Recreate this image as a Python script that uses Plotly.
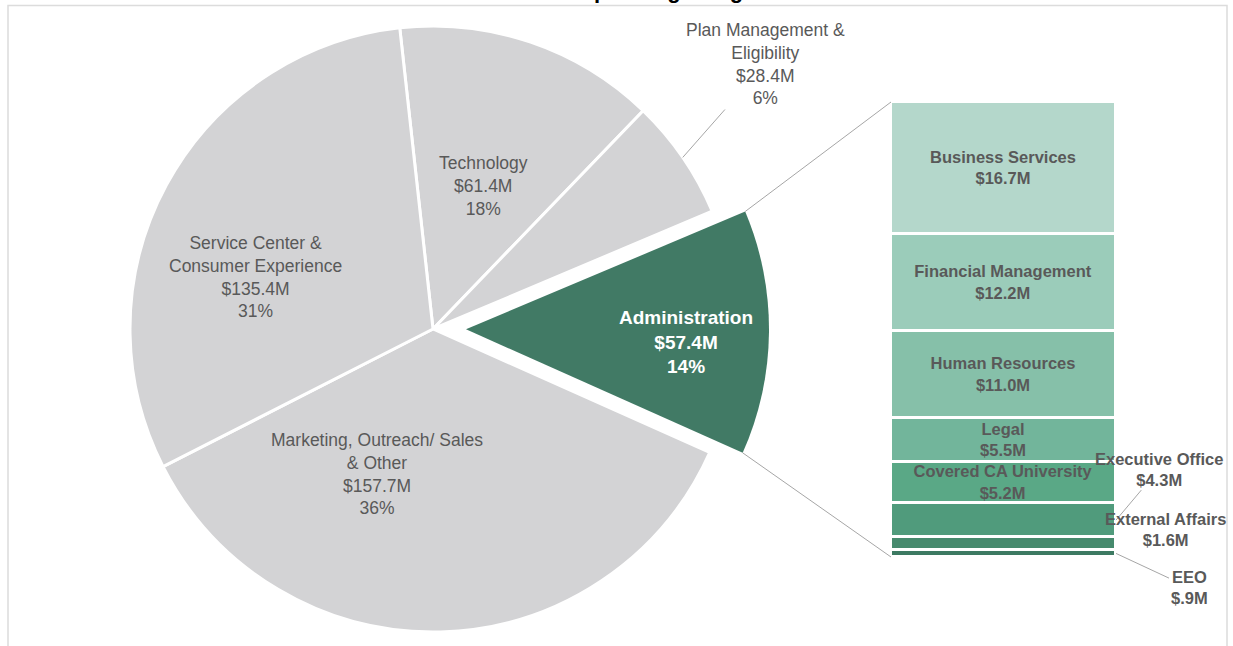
import math
import plotly.graph_objects as go

# ---- data ----
pie_labels = ["Technology", "Plan Management &<br>Eligibility", "Administration",
              "Marketing, Outreach/ Sales<br>& Other", "Service Center &<br>Consumer Experience"]
pie_values = [61.4, 28.4, 57.4, 157.7, 135.4]
pie_amounts = ["$61.4M", "$28.4M", "$57.4M", "$157.7M", "$135.4M"]
pie_pcts = ["18%", "6%", "14%", "36%", "31%"]

admin_units = ["EEO", "External Affairs", "Executive Office", "Covered CA University",
               "Legal", "Human Resources", "Financial Management", "Business Services"]
admin_values = [0.9, 1.6, 4.3, 5.2, 5.5, 11.0, 12.2, 16.7]
admin_amounts = ["$.9M", "$1.6M", "$4.3M", "$5.2M", "$5.5M", "$11.0M", "$12.2M", "$16.7M"]

title_text = "2024-25 Operating Budget"

# ---- layout constants (pixels) ----
W, H = 1233, 646
CX, CY, R = 433, 329, 303
PULL_PX = 33
ROT = -6.3
ADMIN = 2
BAR_X0, BAR_X1, BAR_TOP, BAR_BOT = 891, 1116, 102, 557

GRAY = "#d3d3d5"
ADMIN_GREEN = "#417a65"
CLEAR = "rgba(0,0,0,0)"
TXT = "#595959"
LEADER = "#a6a6a6"
FONT = "Liberation Sans, Arial, sans-serif"
bar_colors = ["#3d7a62", "#468a6d", "#509b7c", "#5aa886",
              "#72b59b", "#86c0a9", "#9bccba", "#b4d7cb"]

# label centres for the pie (pixels)
pie_label_xy = [(483, 186), (765, 64), (686, 342), (377, 474), (255, 277)]


def px(x):
    return x / W


def py(y):
    return 1 - y / H


total = sum(pie_values)


def slice_angles(i):
    start = ROT + 360 * sum(pie_values[:i]) / total
    return start, start + 360 * pie_values[i] / total


def arc_point(cx, cy, ang, r=R):
    a = math.radians(ang)
    return cx + r * math.sin(a), cy - r * math.cos(a)


# pulled-out centre of the Administration slice
a0, a1 = slice_angles(ADMIN)
mid = (a0 + a1) / 2
PCX = CX + PULL_PX * math.sin(math.radians(mid))
PCY = CY - PULL_PX * math.cos(math.radians(mid))

fig = go.Figure()

# base pie (Administration left empty)
fig.add_trace(go.Pie(
    values=pie_values, labels=[l.replace("<br>", " ") for l in pie_labels],
    sort=False, direction="clockwise", rotation=ROT,
    marker=dict(colors=[CLEAR if i == ADMIN else GRAY for i in range(5)],
                line=dict(color=[CLEAR if i == ADMIN else "white" for i in range(5)], width=3)),
    textinfo="none", hoverinfo="skip", showlegend=False,
    domain=dict(x=[px(CX - R), px(CX + R)], y=[py(CY + R), py(CY - R)]),
))

# exploded Administration slice
fig.add_trace(go.Pie(
    values=pie_values, labels=[l.replace("<br>", " ") for l in pie_labels],
    sort=False, direction="clockwise", rotation=ROT,
    marker=dict(colors=[ADMIN_GREEN if i == ADMIN else CLEAR for i in range(5)],
                line=dict(width=0)),
    textinfo="none", hoverinfo="skip", showlegend=False,
    domain=dict(x=[px(PCX - R), px(PCX + R)], y=[py(PCY + R), py(PCY - R)]),
))

# stacked breakdown bar
bar_total = sum(admin_values)
for i, (unit, v) in enumerate(zip(admin_units, admin_values)):
    inside = i >= 3
    fig.add_trace(go.Bar(
        x=[0], y=[v], width=1, name=unit, showlegend=False, hoverinfo="skip",
        marker=dict(color=bar_colors[i], line=dict(color="white", width=3)),
        text=[f"<b>{unit}<br>{admin_amounts[i]}</b>"] if inside else None,
        textposition="inside" if inside else "none",
        insidetextanchor="middle",
        textfont=dict(family=FONT, size=16.5, color=TXT),
    ))

annotations = []

# pie labels
for i in range(5):
    lx, ly = pie_label_xy[i]
    text = f"{pie_labels[i]}<br>{pie_amounts[i]}<br>{pie_pcts[i]}"
    if i == ADMIN:
        annotations.append(dict(x=px(lx), y=py(ly), xref="paper", yref="paper", showarrow=False,
                                xanchor="center", yanchor="middle",
                                text=f"<b>{text}</b>", font=dict(family=FONT, size=19, color="white")))
    elif i == 1:
        ang = sum(slice_angles(i)) / 2
        ex, ey = arc_point(CX, CY, ang)
        annotations.append(dict(x=px(ex), y=py(ey), xref="paper", yref="paper", showarrow=True,
                                ax=lx - ex, ay=ly - ey, arrowhead=0, arrowwidth=1, arrowcolor=LEADER,
                                text=text, font=dict(family=FONT, size=17.5, color=TXT)))
    else:
        annotations.append(dict(x=px(lx), y=py(ly), xref="paper", yref="paper", showarrow=False,
                                xanchor="center", yanchor="middle",
                                text=text, font=dict(family=FONT, size=17.5, color=TXT)))

# outside bar labels (EEO, External Affairs, Executive Office)
cum = [sum(admin_values[:i]) for i in range(len(admin_values))]
bold_out = dict(family=FONT, size=16.5, color=TXT)
annotations.append(dict(x=0.5, y=cum[2] + admin_values[2] / 2, xref="x", yref="y", showarrow=True,
                        ax=43, ay=-51, arrowhead=0, arrowwidth=1, arrowcolor=LEADER,
                        text=f"<b>{admin_units[2]}<br>{admin_amounts[2]}</b>", font=bold_out))
annotations.append(dict(x=px(1165), y=py(529), xref="paper", yref="paper", showarrow=False,
                        xanchor="center", yanchor="middle",
                        text=f"<b>{admin_units[1]}<br>{admin_amounts[1]}</b>", font=bold_out))
annotations.append(dict(x=0.5, y=cum[0] + admin_values[0] / 2, xref="x", yref="y", showarrow=True,
                        ax=73, ay=34, arrowhead=0, arrowwidth=1, arrowcolor=LEADER,
                        text=f"<b>{admin_units[0]}<br>{admin_amounts[0]}</b>", font=bold_out))

# title (mostly above the visible frame)
annotations.append(dict(x=px(765), y=1, xref="paper", yref="paper", xanchor="right", yanchor="bottom",
                        yshift=-5, showarrow=False, text=f"<b>{title_text}</b>",
                        font=dict(family=FONT, size=22, color="black")))

# connector lines from the exploded slice to the bar
ux, uy = arc_point(PCX, PCY, a0)
lx_, ly_ = arc_point(PCX, PCY, a1)
shapes = [
    dict(type="line", xref="paper", yref="paper", x0=px(ux), y0=py(uy), x1=px(BAR_X0), y1=py(BAR_TOP),
         line=dict(color=LEADER, width=1)),
    dict(type="line", xref="paper", yref="paper", x0=px(lx_), y0=py(ly_), x1=px(BAR_X0), y1=py(BAR_BOT),
         line=dict(color=LEADER, width=1)),
    dict(type="rect", xref="paper", yref="paper", x0=px(8), y0=py(700), x1=px(1227), y1=py(5.5),
         line=dict(color="#dcdcdc", width=1.5), layer="below"),
]

fig.update_layout(
    width=W, height=H,
    margin=dict(l=0, r=0, t=0, b=0),
    paper_bgcolor="white", plot_bgcolor="white",
    barmode="stack", bargap=0,
    showlegend=False,
    font=dict(family=FONT, color=TXT),
    uniformtext=dict(minsize=16.5, mode="show"),
    xaxis=dict(domain=[px(BAR_X0), px(BAR_X1)], range=[-0.5, 0.5], visible=False, fixedrange=True),
    yaxis=dict(domain=[py(BAR_BOT), py(BAR_TOP)], range=[0, bar_total], visible=False, fixedrange=True),
    annotations=annotations,
    shapes=shapes,
)

fig.write_html("out.html", config={"displayModeBar": False},
               post_script="document.body.style.margin='0';")
